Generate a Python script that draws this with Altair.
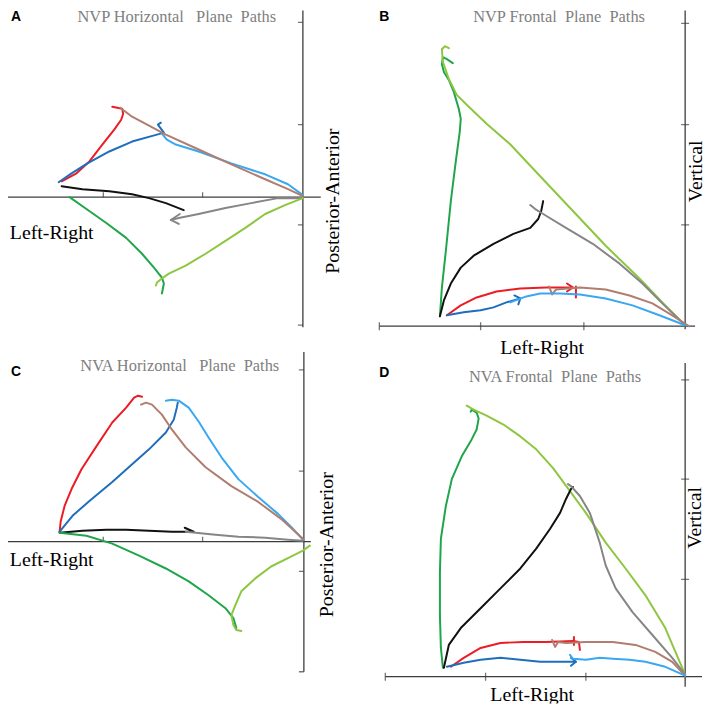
import altair as alt
import pandas as pd

# ---------------- colours of the eight paths ----------------
COLOR_KEYS = ["red", "blue", "lightblue", "brown", "black", "gray", "green", "lightgreen"]
COLOR_VALUES = ["#ec1c24", "#1f6dbd", "#3aa8f0", "#b07d6e", "#111111", "#868686", "#1fa54a", "#8dc640"]

# ---------------- texts ----------------
LETTERS = ["A", "B", "C", "D"]
TITLES = [
    "NVP Horizontal\u00a0\u00a0\u00a0Plane\u00a0\u00a0Paths",
    "NVP Frontal\u00a0\u00a0Plane\u00a0\u00a0Paths",
    "NVA Horizontal\u00a0\u00a0\u00a0Plane\u00a0\u00a0Paths",
    "NVA Frontal\u00a0\u00a0Plane\u00a0\u00a0Paths",
]
X_LABEL = "Left-Right"
Y_LABELS = ["Posterior-Anterior", "Vertical", "Posterior-Anterior", "Vertical"]

# ---------------- panel A: NVP horizontal plane (x: left-right, y: posterior-anterior) ----------------
A_PATHS = {
    "red": ([-243, -228, -215, -202, -190, -183, -181, -182, -187, -192], [16, 24, 36, 53, 68, 78, 84, 89, 90, 91]),
    "blue": ([-246, -233, -217, -195, -172, -147, -140, -143, -146, -143], [15, 24, 34, 46, 56, 63, 65, 69, 73, 75]),
    "lightblue": ([-142, -137, -128, -105, -72, -38, -15, 0], [64, 58, 53, 46, 34, 23, 13, 2]),
    "brown": ([-184, -172, -155, -138, -105, -72, -38, -15, 0], [90, 81, 72, 63, 48, 33, 18, 8, 1]),
    "black": ([-243, -222, -195, -172, -155, -138, -120], [11, 8, 6, 3, -1, -6, -13]),
    "gray": ([0, -25, -52, -78, -105, -125, -133], [-1, -1, -6, -11, -17, -21, -23]),
    "gray_head": ([-124, -133, -125], [-17, -23, -27]),
    "green": ([-235, -218, -198, -178, -162, -150, -142, -140, -142], [0, -12, -26, -41, -57, -71, -81, -87, -97]),
    "lightgreen": ([0, -18, -38, -58, -78, -98, -118, -135, -142, -147, -148],
                   [-1, -8, -17, -31, -44, -57, -69, -77, -82, -86, -89]),
}
A_XTICKS = [-302, -201, -101]
A_YTICKS = [176, 73, -28, -129]

# ---------------- panel B: NVP frontal plane (x: left-right, y: vertical) ----------------
B_PATHS = {
    "green": ([-247, -245, -241, -236, -231, -227, -226, -228, -233, -238, -243, -245, -244, -240, -234],
              [10, 39, 76, 126, 166, 196, 209, 219, 236, 248, 256, 264, 271, 269, 265]),
    "lightgreen": ([-238, -242, -245, -244, -238, -230, -220, -200, -176, -146, -113, -80, -46, -20, 0],
                   [280, 282, 279, 266, 249, 233, 223, 204, 183, 151, 116, 81, 48, 21, 1]),
    "black": ([-247, -243, -236, -226, -213, -193, -173, -156, -148, -145, -143],
              [10, 26, 43, 59, 71, 83, 93, 99, 108, 116, 126]),
    "gray": ([-156, -151, -143, -120, -93, -66, -43, -23, 0], [122, 118, 113, 99, 83, 63, 43, 23, 1]),
    "red": ([-240, -226, -210, -190, -166, -140, -113], [11, 21, 29, 35, 38, 39, 39]),
    "red_head": ([-119, -113, -119], [43, 39, 35]),
    "red_tail": ([-110, -110], [40, 29]),
    "brown": ([-137, -134, -130, -106, -80, -56, -33, -13, 4], [40, 32, 37, 39, 37, 31, 23, 11, 0]),
    "blue": ([-240, -223, -206, -193, -180, -166], [11, 14, 16, 19, 24, 28]),
    "blue_head": ([-172, -166, -168], [31, 28, 22]),
    "lightblue": ([-176, -160, -146, -126, -106, -80, -53, -26, 0], [24, 30, 33, 33, 32, 28, 21, 11, 1]),
}
B_XTICKS = [-308, -206, -102]
B_YTICKS = [305, 203, 102]

# ---------------- panel C: NVA horizontal plane ----------------
C_PATHS = {
    "red": ([-246, -245, -241, -234, -224, -209, -193, -179, -171, -167, -163],
            [10, 20, 36, 53, 73, 96, 120, 135, 145, 147, 146]),
    "blue": ([-246, -233, -216, -193, -173, -156, -139, -131, -128, -127], [10, 26, 41, 60, 78, 93, 110, 123, 135, 140]),
    "lightblue": ([-139, -133, -126, -116, -106, -96, -83, -66, -46, -26, -13, -1],
                  [142, 143, 142, 135, 121, 105, 85, 63, 45, 28, 15, 2]),
    "brown": ([-164, -159, -153, -143, -133, -119, -99, -73, -46, -23, -1],
              [138, 140, 138, 128, 113, 95, 75, 56, 40, 23, 3]),
    "black": ([-246, -223, -199, -179, -156, -133, -114], [9, 11, 12, 12, 11, 10, 10]),
    "black_head": ([-120, -111], [14, 10]),
    "gray": ([-119, -109, -89, -66, -39, -16, -1], [10, 9, 7, 5, 4, 2, 1]),
    "green": ([-246, -219, -193, -166, -139, -116, -96, -79, -71, -68], [9, 6, -2, -14, -27, -40, -54, -67, -77, -87]),
    "lightgreen": ([6, -1, -13, -33, -49, -63, -69, -73, -71, -68, -63],
                   [-4, -9, -15, -25, -37, -50, -64, -74, -84, -89, -90]),
}
C_XTICKS = [-303, -202, -102]
C_YTICKS = [173, 71, -30, -131]

# ---------------- panel D: NVA frontal plane ----------------
D_PATHS = {
    "green": ([-244, -246, -247, -247, -246, -241, -235, -225, -215, -210, -208, -210, -215, -216],
              [9, 29, 62, 105, 139, 172, 199, 222, 239, 249, 260, 266, 269, 267]),
    "lightgreen": ([-220, -213, -200, -183, -166, -150, -133, -116, -100, -80, -60, -40, -20, 0],
                   [273, 269, 263, 254, 242, 229, 210, 187, 165, 135, 109, 82, 49, 2]),
    "black": ([-243, -238, -226, -206, -186, -166, -150, -136, -126, -120, -115, -113],
              [9, 32, 49, 69, 89, 109, 129, 149, 165, 179, 189, 191]),
    "gray": ([-118, -115, -106, -96, -86, -80, -70, -53, -33, -13, 0], [194, 192, 182, 165, 135, 112, 89, 65, 42, 19, 2]),
    "red": ([-236, -223, -206, -186, -163, -140, -113, -107, -106], [10, 19, 29, 34, 35, 35, 36, 35, 27]),
    "red_head": ([-112, -112], [40, 32]),
    "brown": ([-134, -131, -128, -120, -100, -73, -50, -30, -13, 0], [37, 30, 35, 34, 35, 35, 32, 25, 15, 1]),
    "blue": ([-240, -223, -206, -186, -166, -146, -126, -110], [10, 14, 17, 19, 17, 15, 15, 15]),
    "blue_head": ([-115, -110, -115], [19, 15, 11]),
    "lightblue": ([-116, -113, -100, -86, -73, -56, -40, -20, 0], [22, 18, 17, 19, 18, 17, 15, 10, 1]),
}
D_XTICKS = [-302, -201, -100]
D_YTICKS = [299, 199, 98]

AXIS_COLOR = "#3c3c3c"
SERIF = "Liberation Serif"
SANS = "Liberation Sans"


def paths_frame(paths):
    rows = []
    for name, (xs, ys) in paths.items():
        col = name.split("_")[0]
        for i, (xv, yv) in enumerate(zip(xs, ys)):
            rows.append({"key": name, "c": col, "i": i, "x": xv, "y": yv})
    return pd.DataFrame(rows)


def panel(paths, xdom, ydom, w, h, hax, vax, xticks, yticks, crossing, texts):
    xs = alt.Scale(domain=xdom, nice=False, zero=False)
    ys = alt.Scale(domain=ydom, nice=False, zero=False)

    def X(f="x"):
        return alt.X(f"{f}:Q", scale=xs, axis=None)

    def Y(f="y"):
        return alt.Y(f"{f}:Q", scale=ys, axis=None)

    layers = []
    # axis lines
    layers.append(
        alt.Chart(pd.DataFrame({"x": [hax[0]], "x2": [hax[1]], "y": [0]}))
        .mark_rule(color=AXIS_COLOR, strokeWidth=1.3, clip=True)
        .encode(x=X(), x2=alt.X2("x2:Q"), y=Y())
    )
    layers.append(
        alt.Chart(pd.DataFrame({"x": [0], "y": [vax[0]], "y2": [vax[1]]}))
        .mark_rule(color=AXIS_COLOR, strokeWidth=1.3, clip=True)
        .encode(x=X(), y=Y(), y2=alt.Y2("y2:Q"))
    )
    # tick marks
    if crossing:
        hkw = dict(size=8)
        vkw = dict(size=8)
    else:
        hkw = dict(size=5, yOffset=-2.5)
        vkw = dict(size=5, xOffset=-2.5)
    layers.append(
        alt.Chart(pd.DataFrame({"x": xticks, "y": [0] * len(xticks)}))
        .mark_tick(orient="vertical", thickness=1.3, color=AXIS_COLOR, clip=True, **hkw)
        .encode(x=X(), y=Y())
    )
    layers.append(
        alt.Chart(pd.DataFrame({"x": [0] * len(yticks), "y": yticks}))
        .mark_tick(orient="horizontal", thickness=1.3, color=AXIS_COLOR, clip=True, **vkw)
        .encode(x=X(), y=Y())
    )
    # paths
    layers.append(
        alt.Chart(paths_frame(paths))
        .mark_line(strokeWidth=2, strokeCap="round", strokeJoin="round", clip=True)
        .encode(
            x=X(),
            y=Y(),
            color=alt.Color("c:N", scale=alt.Scale(domain=COLOR_KEYS, range=COLOR_VALUES), legend=None),
            detail="key:N",
            order="i:Q",
        )
    )
    # texts
    for t in texts:
        layers.append(
            alt.Chart(pd.DataFrame({"t": [t["text"]]}))
            .mark_text(
                font=t.get("font", SERIF),
                fontSize=t["size"],
                fontWeight=t.get("weight", "normal"),
                color=t.get("color", "#000000"),
                angle=t.get("angle", 0),
                align="center",
                baseline="middle",
                clip=True,
            )
            .encode(x=alt.value(t["px"]), y=alt.value(t["py"]), text="t:N")
        )
    return alt.layer(*layers).properties(width=w, height=h)


def texts_for(k, letter_xy, title_xy, xl_xy, yl_xy):
    return [
        {"text": LETTERS[k], "px": letter_xy[0], "py": letter_xy[1], "size": 14, "font": SANS, "weight": "bold"},
        {"text": TITLES[k], "px": title_xy[0], "py": title_xy[1], "size": 16.5, "color": "#808080"},
        {"text": X_LABEL, "px": xl_xy[0], "py": xl_xy[1], "size": 20},
        {"text": Y_LABELS[k], "px": yl_xy[0], "py": yl_xy[1], "size": 20, "angle": 270},
    ]


pA = panel(A_PATHS, [-297, 52], [-144, 188], 349, 332, (-302, 18), (-131, 191), A_XTICKS, A_YTICKS, False,
           texts_for(0, (8, 7), (170, 7), (44, 224), (327, 192)))
pC = panel(C_PATHS, [-298, 51], [-163, 203], 349, 366, (-303, 7), (-131, 191), C_XTICKS, C_YTICKS, False,
           texts_for(2, (8, 32), (173, 26), (44, 222), (321, 206)))
pB = panel(B_PATHS, [-333, 21], [-32, 318], 354, 350, (-308, 10), (-3, 321), B_XTICKS, B_YTICKS, True,
           texts_for(1, (30, 7), (206, 7), (189, 340), (344, 162)))
pD = panel(D_PATHS, [-333, 21], [-27, 321], 354, 348, (-302, 17), (-10, 316), D_XTICKS, D_YTICKS, True,
           texts_for(3, (30, 15), (202, 19), (179, 339), (343, 161)))

left = alt.vconcat(pA, pC, spacing=0)
right = alt.vconcat(pB, pD, spacing=0)
chart = (
    alt.hconcat(left, right, spacing=0)
    .properties(padding=0, background="white")
    .configure_view(stroke=None)
)

chart.save("out.html", embed_options={"renderer": "svg", "actions": False})
